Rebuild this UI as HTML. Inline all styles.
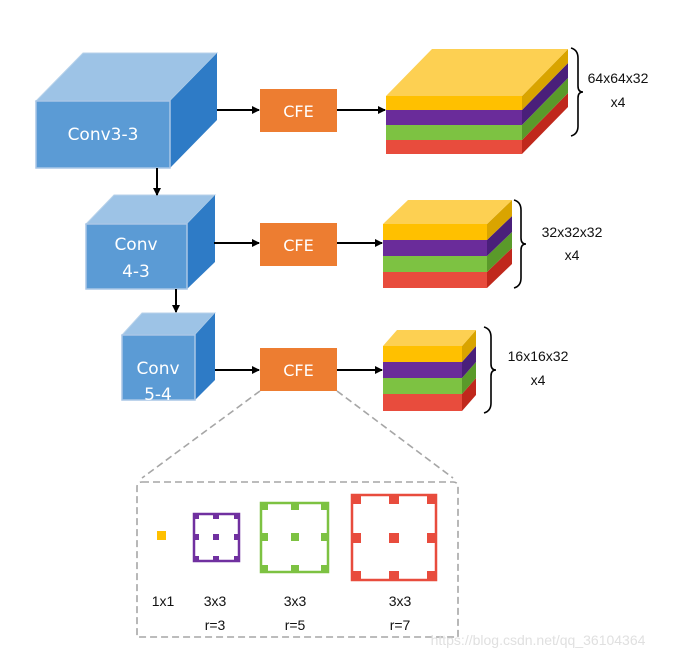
<!DOCTYPE html>
<html><head><meta charset="utf-8"><style>
html,body{margin:0;padding:0;background:#fff;}
svg{display:block;font-family:"DejaVu Sans","Liberation Sans",sans-serif;}
.lbl{font-family:"Liberation Sans",sans-serif;font-size:14px;fill:#111;text-anchor:middle;}
</style></head><body>
<svg width="673" height="659" viewBox="0 0 673 659" xmlns="http://www.w3.org/2000/svg">
<defs>
<marker id="ar" markerWidth="8" markerHeight="8" refX="7" refY="4" orient="auto" markerUnits="userSpaceOnUse"><path d="M0,0 L8,4 L0,8 z" fill="#000"/></marker>
</defs>
<!-- Cube 1 -->
<polygon points="36,101 170,101 217,53 83,53" fill="#9dc3e6" stroke="#b8d2ea"/>
<polygon points="170,101 217,53 217,120 170,168" fill="#2e7bc6"/>
<rect x="36" y="101" width="134" height="67" fill="#5b9bd5" stroke="#a9c6e6" stroke-width="1.5"/>
<text x="103" y="140" fill="#fff" font-size="17" text-anchor="middle">Conv3-3</text>
<!-- Cube 2 -->
<polygon points="86,224 187,224 215,195 114,195" fill="#9dc3e6" stroke="#b8d2ea"/>
<polygon points="187,224 215,195 215,262 187,289" fill="#2e7bc6"/>
<rect x="86" y="224" width="101" height="65" fill="#5b9bd5" stroke="#a9c6e6" stroke-width="1.5"/>
<text x="136" y="250" fill="#fff" font-size="17" text-anchor="middle">Conv</text>
<text x="136" y="277" fill="#fff" font-size="17" text-anchor="middle">4-3</text>
<!-- Cube 3 -->
<polygon points="122,335 195,335 215,313 142,313" fill="#9dc3e6" stroke="#b8d2ea"/>
<polygon points="195,335 215,313 215,380 195,400" fill="#2e7bc6"/>
<rect x="122" y="335" width="73" height="65" fill="#5b9bd5" stroke="#a9c6e6" stroke-width="1.5"/>
<text x="158" y="374" fill="#fff" font-size="17" text-anchor="middle">Conv</text>
<text x="158" y="400" fill="#fff" font-size="17" text-anchor="middle">5-4</text>
<!-- down arrows -->
<line x1="157" y1="168" x2="157" y2="195" stroke="#000" stroke-width="2" marker-end="url(#ar)"/>
<line x1="176" y1="289" x2="176" y2="312" stroke="#000" stroke-width="2" marker-end="url(#ar)"/>
<!-- CFE boxes -->
<rect x="260" y="89" width="77" height="43" fill="#ed7d31"/>
<text x="298.5" y="117" fill="#fff" font-size="16" text-anchor="middle">CFE</text>
<rect x="260" y="223" width="77" height="43" fill="#ed7d31"/>
<text x="298.5" y="251" fill="#fff" font-size="16" text-anchor="middle">CFE</text>
<rect x="260" y="348" width="77" height="43" fill="#ed7d31"/>
<text x="298.5" y="376" fill="#fff" font-size="16" text-anchor="middle">CFE</text>
<!-- arrows -->
<g stroke="#000" stroke-width="2">
<line x1="217" y1="110" x2="259" y2="110" marker-end="url(#ar)"/>
<line x1="214" y1="243" x2="259" y2="243" marker-end="url(#ar)"/>
<line x1="215" y1="370" x2="259" y2="370" marker-end="url(#ar)"/>
<line x1="337" y1="110" x2="385" y2="110" marker-end="url(#ar)"/>
<line x1="337" y1="243" x2="382" y2="243" marker-end="url(#ar)"/>
<line x1="337" y1="370" x2="382" y2="370" marker-end="url(#ar)"/>
</g>
<!-- Stack 1 -->
<g>
<polygon points="522,140 568,93 568,107 522,154" fill="#c0281c"/><rect x="386" y="140" width="136" height="14" fill="#e84c3d"/>
<polygon points="522,125 568,78 568,93 522,140" fill="#5a9a2a"/><rect x="386" y="125" width="136" height="15" fill="#7dc242"/>
<polygon points="522,110 568,63 568,78 522,125" fill="#4a1f7a"/><rect x="386" y="110" width="136" height="15" fill="#6a2c9a"/>
<polygon points="522,96 568,49 568,63 522,110" fill="#d9a400"/><rect x="386" y="96" width="136" height="14" fill="#ffc000"/>
<polygon points="386,96 522,96 568,49 432,49" fill="#fdd052"/>
</g>
<!-- Stack 2 -->
<g>
<polygon points="487,272 512,248 512,264 487,288" fill="#c0281c"/><rect x="383" y="272" width="104" height="16" fill="#e84c3d"/>
<polygon points="487,256 512,232 512,248 487,272" fill="#5a9a2a"/><rect x="383" y="256" width="104" height="16" fill="#7dc242"/>
<polygon points="487,240 512,216 512,232 487,256" fill="#4a1f7a"/><rect x="383" y="240" width="104" height="16" fill="#6a2c9a"/>
<polygon points="487,224 512,200 512,216 487,240" fill="#d9a400"/><rect x="383" y="224" width="104" height="16" fill="#ffc000"/>
<polygon points="383,224 487,224 512,200 408,200" fill="#fdd052"/>
</g>
<!-- Stack 3 -->
<g>
<polygon points="462,394 476,378 476,395 462,411" fill="#c0281c"/><rect x="383" y="394" width="79" height="17" fill="#e84c3d"/>
<polygon points="462,378 476,362 476,378 462,394" fill="#5a9a2a"/><rect x="383" y="378" width="79" height="16" fill="#7dc242"/>
<polygon points="462,362 476,346 476,362 462,378" fill="#4a1f7a"/><rect x="383" y="362" width="79" height="16" fill="#6a2c9a"/>
<polygon points="462,346 476,330 476,346 462,362" fill="#d9a400"/><rect x="383" y="346" width="79" height="16" fill="#ffc000"/>
<polygon points="383,346 462,346 476,330 397,330" fill="#fdd052"/>
</g>
<!-- braces -->
<g fill="none" stroke="#000" stroke-width="1.6">
<path d="M571,48 Q578,50 578,58 L578,86 Q578,92 583,92 Q578,92 578,98 L578,126 Q578,134 571,136"/>
<path d="M514,200 Q521,202 521,210 L521,238 Q521,244 526,244 Q521,244 521,250 L521,278 Q521,286 514,288"/>
<path d="M484,327 Q491,329 491,337 L491,364 Q491,370 496,370 Q491,370 491,376 L491,403 Q491,411 484,413"/>
</g>
<text class="lbl" x="618" y="83">64x64x32</text><text class="lbl" x="618" y="107">x4</text>
<text class="lbl" x="572" y="237">32x32x32</text><text class="lbl" x="572" y="260">x4</text>
<text class="lbl" x="538" y="361">16x16x32</text><text class="lbl" x="538" y="385">x4</text>
<!-- dashed -->
<g fill="none" stroke="#a6a6a6" stroke-width="1.6" stroke-dasharray="7,4">
<path d="M260,391 L142,478"/>
<path d="M337,391 L453,478"/>
<path d="M142,482 L453,482 Q458,482 458,487 L458,637 L137,637 L137,487 Q137,482 142,482"/>
</g>
<!-- kernels -->
<rect x="157" y="531" width="9" height="9" fill="#ffc000"/>
<g fill="#7030a0">
<rect x="194" y="514" width="45" height="47" fill="none" stroke="#7030a0" stroke-width="2.5"/>
<rect x="193" y="513" width="6" height="6"/><rect x="213" y="513" width="6" height="6"/><rect x="234" y="513" width="6" height="6"/>
<rect x="193" y="534" width="6" height="6"/><rect x="213" y="534" width="6" height="6"/><rect x="234" y="534" width="6" height="6"/>
<rect x="193" y="556" width="6" height="6"/><rect x="213" y="556" width="6" height="6"/><rect x="234" y="556" width="6" height="6"/>
</g>
<g fill="#7dc242">
<rect x="261" y="503" width="67" height="69" fill="none" stroke="#7dc242" stroke-width="2.5"/>
<rect x="260" y="502" width="8" height="8"/><rect x="291" y="502" width="8" height="8"/><rect x="321" y="502" width="8" height="8"/>
<rect x="260" y="533" width="8" height="8"/><rect x="291" y="533" width="8" height="8"/><rect x="321" y="533" width="8" height="8"/>
<rect x="260" y="565" width="8" height="8"/><rect x="291" y="565" width="8" height="8"/><rect x="321" y="565" width="8" height="8"/>
</g>
<g fill="#e84c3d">
<rect x="352" y="495" width="84" height="85" fill="none" stroke="#e84c3d" stroke-width="2.5"/>
<rect x="351" y="494" width="10" height="10"/><rect x="389" y="494" width="10" height="10"/><rect x="427" y="494" width="10" height="10"/>
<rect x="351" y="533" width="10" height="10"/><rect x="389" y="533" width="10" height="10"/><rect x="427" y="533" width="10" height="10"/>
<rect x="351" y="571" width="10" height="10"/><rect x="389" y="571" width="10" height="10"/><rect x="427" y="571" width="10" height="10"/>
</g>
<text class="lbl" x="163" y="606">1x1</text>
<text class="lbl" x="215" y="606">3x3</text><text class="lbl" x="215" y="630">r=3</text>
<text class="lbl" x="295" y="606">3x3</text><text class="lbl" x="295" y="630">r=5</text>
<text class="lbl" x="400" y="606">3x3</text><text class="lbl" x="400" y="630">r=7</text>
<text x="538" y="645" font-family="Liberation Sans,sans-serif" font-size="14" fill="#e0e0e0" text-anchor="middle">https://blog.csdn.net/qq_36104364</text>
</svg>
</body></html>
